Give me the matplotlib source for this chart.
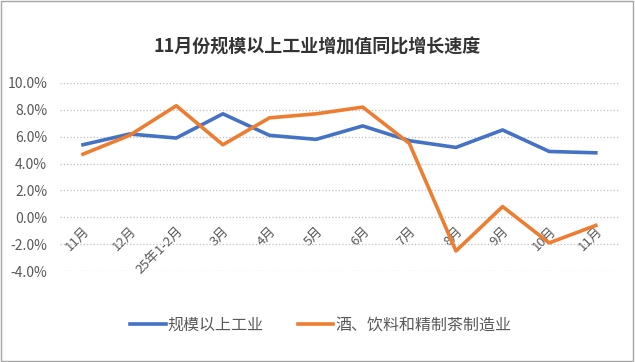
import matplotlib
matplotlib.use("Agg")
import matplotlib.pyplot as plt
from matplotlib.patches import Rectangle
from matplotlib.ticker import FuncFormatter

plt.rcParams['font.family'] = ['Noto Sans CJK SC', 'DejaVu Sans']
plt.rcParams['axes.unicode_minus'] = False

months = ['11月', '12月', '25年1-2月', '3月', '4月', '5月', '6月',
          '7月', '8月', '9月', '10月', '11月']
industry = [5.4, 6.2, 5.9, 7.7, 6.1, 5.8, 6.8, 5.7, 5.2, 6.5, 4.9, 4.8]
beverage = [4.7, 6.1, 8.3, 5.4, 7.4, 7.7, 8.2, 5.5, -2.5, 0.8, -1.9, -0.6]
series_names = ['规模以上工业', '酒、饮料和精制茶制造业']

fig = plt.figure(figsize=(6.35, 3.62), dpi=100)
ax = fig.add_axes([0.094, 0.251, 0.881, 0.52])

x = range(len(months))
ax.plot(x, industry, color='#4472C4', lw=2.6, label=series_names[0], zorder=3)
ax.plot(x, beverage, color='#ED7D31', lw=2.6, label=series_names[1], zorder=3)

ax.set_xlim(-0.5, len(months) - 0.5)
ax.set_ylim(-4, 10)
ax.set_yticks(range(-4, 11, 2))
ax.yaxis.set_major_formatter(FuncFormatter(lambda v, p: f'{v:.1f}%'))
ax.grid(axis='y', color='#BFBFBF', linestyle=':', lw=0.9)
ax.set_axisbelow(True)

for s in ax.spines.values():
    s.set_visible(False)
ax.spines['bottom'].set_position(('data', 0))

ax.set_xticks(list(x))
ax.set_xticklabels(months, rotation=45, ha='right', rotation_mode='anchor')
ax.tick_params(axis='x', length=0, pad=5, labelsize=9.5, labelcolor='#595959')
ax.tick_params(axis='y', length=0, pad=9, labelsize=10, labelcolor='#595959')

fig.text(0.5, 0.87, '11月份规模以上工业增加值同比增长速度', ha='center', va='center',
         fontsize=13, fontweight='bold', color='#333333')

fig.legend(loc='center', bbox_to_anchor=(0.505, 0.102), ncol=2, frameon=False,
           fontsize=11.5, handlelength=2.2, columnspacing=2.2, handletextpad=0.1,
           labelcolor='#595959')

fig.patches.append(Rectangle((0.002, 0.003), 0.995, 0.993, transform=fig.transFigure,
                             fill=False, edgecolor='#A6A6A6', lw=1.0))

fig.savefig('out.png', dpi=100)
